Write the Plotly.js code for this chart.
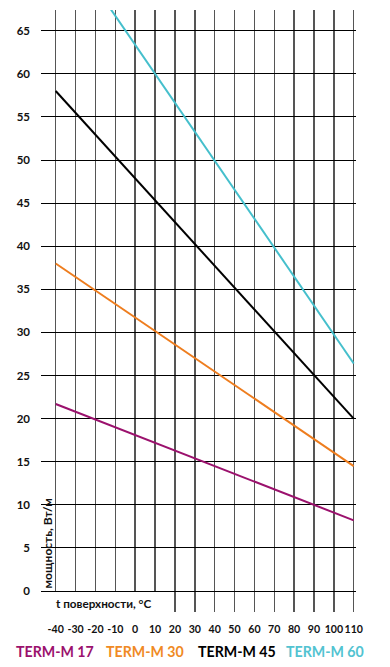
<!DOCTYPE html>
<html>
<head>
<meta charset="utf-8">
<script src="https://cdn.plot.ly/plotly-3.0.1.min.js"></script>
<style>html,body{margin:0;padding:0;background:#fff;}#chart{width:390px;height:667px;}</style>
</head>
<body>
<div id="chart"></div>
<script>
// Data
var seriesNames = ["TERM-M 17", "TERM-M 30", "TERM-M 45", "TERM-M 60"];
var seriesColors = ["#9b116d", "#ee7d1e", "#000000", "#45bfcc"];
var textColors = ["#9b116d", "#f08a24", "#000000", "#52c3d1"];
var x17 = [-40, 110], y17 = [21.7, 8.2];
var x30 = [-40, 110], y30 = [38.0, 14.5];
var x45 = [-40, 110], y45 = [58.0, 20.0];
var x60 = [-13.5, 110], y60 = [67.9, 26.4];
var xTicks = [-40, -30, -20, -10, 0, 10, 20, 30, 40, 50, 60, 70, 80, 90, 100, 110];
var yTicks = [0, 5, 10, 15, 20, 25, 30, 35, 40, 45, 50, 55, 60, 65];
var xTitle = "t поверхности, °C";
var yTitle = "мощность, Вт/м";

var xs = [x17, x30, x45, x60], ys = [y17, y30, y45, y60];
var traces = xs.map(function (x, i) {
  return {x: x, y: ys[i], type: "scatter", mode: "lines", name: seriesNames[i],
    line: {color: seriesColors[i], width: 2}, showlegend: false, hoverinfo: "skip"};
});

var font = "Lato, 'Open Sans', sans-serif";
var legendX = [55, 145, 237, 325];
var annotations = seriesNames.map(function (n, i) {
  return {text: "<b>" + n + "</b>", xref: "paper", yref: "paper",
    x: (legendX[i] - 41) / 315, y: -(651 - 612) / 602, xanchor: "center", yanchor: "middle",
    showarrow: false, font: {family: font, size: 14.2, color: textColors[i]}};
});
annotations.push({text: "<b>" + xTitle + "</b>", xref: "paper", yref: "paper",
  x: (54 - 41) / 315, y: (612 - 603) / 602, xanchor: "left", yanchor: "middle",
  showarrow: false, font: {family: font, size: 11.7, color: "#111"}});
annotations.push({text: "<b>" + yTitle + "</b>", xref: "paper", yref: "paper",
  x: (46.5 - 41) / 315, y: (612 - 544) / 602, xanchor: "center", yanchor: "middle",
  textangle: -90, showarrow: false, font: {family: font, size: 12, color: "#111"}});

var layout = {
  width: 390, height: 667,
  margin: {l: 41, r: 34, t: 10, b: 55},
  paper_bgcolor: "#fff", plot_bgcolor: "#fff",
  showlegend: false,
  xaxis: {range: [-47.4, 111.15], tickvals: xTicks, ticktext: xTicks.map(String),
    tickangle: 0, automargin: false,
    showgrid: true, gridcolor: "#555", gridwidth: 1.5,
    zeroline: false,
    showline: false, ticks: "", ticklabelstandoff: 9,
    tickfont: {family: font, size: 10.6, color: "#111", weight: "bold"}, fixedrange: true},
  xaxis2: {range: [-47.4, 111.15], overlaying: "x", tickvals: [0], showticklabels: false,
    showgrid: true, gridcolor: "#000", gridwidth: 2, zeroline: false, showline: false,
    ticks: "", fixedrange: true},
  yaxis: {range: [-2.43, 67.4], tickvals: yTicks, ticktext: yTicks.map(String),
    showgrid: true, gridcolor: "#000", gridwidth: 1,
    zeroline: false, showline: false, ticks: "", ticklabelstandoff: 10,
    tickfont: {family: font, size: 11.5, color: "#111", weight: "bold"}, fixedrange: true},
  shapes: [{type: "rect", xref: "x", yref: "y", x0: -48, x1: 15, y0: -2.6, y1: -0.12,
    fillcolor: "#fff", line: {width: 0}, layer: "above"}],
  annotations: annotations
};

Plotly.newPlot("chart", traces, layout, {displayModeBar: false, staticPlot: true});
</script>
</body>
</html>
